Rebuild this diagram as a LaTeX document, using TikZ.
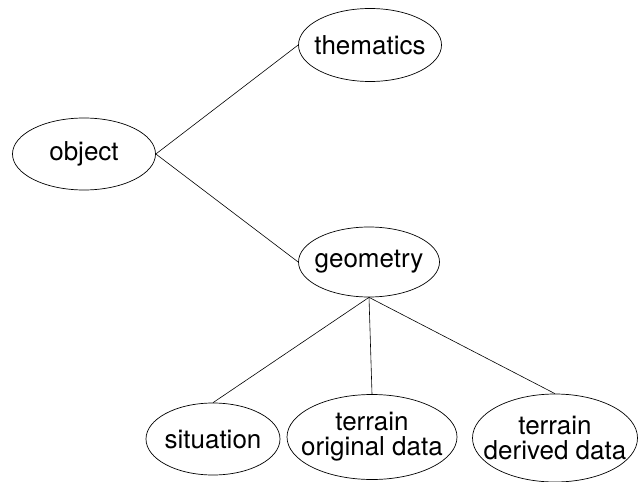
\documentclass[tikz,border=0pt]{standalone}
\usepackage{fontspec}
\newfontfamily\heros{TeX Gyre Heros}
\usetikzlibrary{shapes.geometric}

\tikzset{
  oval/.style 2 args={draw,ellipse,line width=0.7pt,inner sep=0pt,minimum width=#1pt,minimum height=#2pt},
  txt/.style={font=\heros\fontsize{26}{25}\selectfont,align=center,inner sep=0pt},
  edge/.style={line width=0.6pt}
}

\begin{document}
\begin{tikzpicture}[x=1pt,y=-1pt]
    % --- frame
    \useasboundingbox (0,0) rectangle (644,481);

    % --- nodes
    \node[oval={143}{72},label={[txt]center:object}]    (obj)  at (84,154)  {};
    \node[oval={143}{73},label={[txt]center:thematics}] (them) at (370,45)  {};
    \node[oval={141}{70},label={[txt]center:geometry}]  (geom) at (369,262) {};
    \node[oval={134}{72},label={[txt]center:situation}] (sit)  at (213,439) {};
    \node[oval={170}{85},label={[txt]center:terrain\\original data}] (orig) at (372,437) {};
    \node[oval={165}{88},label={[txt]center:terrain\\derived data}]  (der)  at (555,438) {};

    % --- edges
    \foreach \v in {them,geom}{\draw[edge] (obj.east) -- (\v.west);}
    \foreach \v in {sit,orig,der}{\draw[edge] (geom.south) -- (\v.north);}
\end{tikzpicture}
\end{document}
